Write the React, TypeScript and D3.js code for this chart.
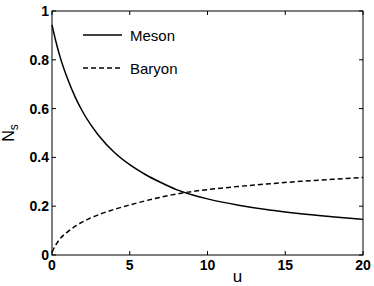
import React, { useEffect, useRef } from 'react';
import * as d3 from 'd3';

// values
const uValues = [0, 0.25, 0.5, 1, 1.5, 2, 2.5, 3, 4, 5, 6, 7, 8, 9, 10, 12, 14, 16, 18, 20];
const mesonValues = [0.943, 0.875, 0.816, 0.722, 0.646, 0.584, 0.533, 0.49, 0.421, 0.37, 0.33, 0.297, 0.268, 0.247, 0.23, 0.204, 0.184, 0.169, 0.157, 0.146];
const baryonValues = [0.012, 0.042, 0.065, 0.095, 0.118, 0.137, 0.152, 0.165, 0.187, 0.205, 0.222, 0.237, 0.25, 0.26, 0.268, 0.281, 0.292, 0.302, 0.31, 0.318];
const xTicks = [0, 5, 10, 15, 20];
const yTicks = [0, 0.2, 0.4, 0.6, 0.8, 1];
const seriesNames = ['Meson', 'Baryon'];

const W = 374;
const H = 286;

export default function App() {
  const svgRef = useRef<SVGSVGElement>(null);

  useEffect(() => {
    if (!svgRef.current) return;
    const margin = { top: 11, right: 11, bottom: 31, left: 52 };
    const iw = W - margin.left - margin.right;
    const ih = H - margin.top - margin.bottom;

    const svg = d3.select(svgRef.current);
    svg.selectAll('*').remove();
    const g = svg.append('g').attr('transform', `translate(${margin.left},${margin.top})`);

    const x = d3.scaleLinear().domain([0, 20]).range([0, iw]);
    const y = d3.scaleLinear().domain([0, 1]).range([ih, 0]);
    const font = 'Liberation Sans, Arial, Helvetica, sans-serif';

    // frame
    g.append('rect')
      .attr('x', 0).attr('y', 0).attr('width', iw).attr('height', ih)
      .attr('fill', 'none').attr('stroke', '#000').attr('stroke-width', 1);

    // inward ticks on all sides
    const tk = 4;
    xTicks.forEach(t => {
      g.append('line').attr('x1', x(t)).attr('x2', x(t)).attr('y1', ih).attr('y2', ih - tk).attr('stroke', '#000');
      g.append('line').attr('x1', x(t)).attr('x2', x(t)).attr('y1', 0).attr('y2', tk).attr('stroke', '#000');
      g.append('text')
        .attr('x', x(t)).attr('y', ih + 15)
        .attr('text-anchor', 'middle')
        .attr('font-family', font).attr('font-weight', 'bold').attr('font-size', 14)
        .text(d3.format('~g')(t));
    });
    yTicks.forEach(t => {
      g.append('line').attr('x1', 0).attr('x2', tk).attr('y1', y(t)).attr('y2', y(t)).attr('stroke', '#000');
      g.append('line').attr('x1', iw).attr('x2', iw - tk).attr('y1', y(t)).attr('y2', y(t)).attr('stroke', '#000');
      g.append('text')
        .attr('x', -3).attr('y', y(t) + 5)
        .attr('text-anchor', 'end')
        .attr('font-family', font).attr('font-weight', 'bold').attr('font-size', 14)
        .text(d3.format('~g')(t));
    });

    const line = d3.line<number>()
      .x((_, i) => x(uValues[i]))
      .y(d => y(d))
      .curve(d3.curveMonotoneX);

    g.append('path')
      .attr('d', line(mesonValues))
      .attr('fill', 'none').attr('stroke', '#000').attr('stroke-width', 1.5);

    g.append('path')
      .attr('d', line(baryonValues))
      .attr('fill', 'none').attr('stroke', '#000').attr('stroke-width', 1.5)
      .attr('stroke-dasharray', '5,3');

    // legend
    const legend = svg.append('g');
    seriesNames.forEach((name, i) => {
      const ly = 35 + i * 33;
      legend.append('line')
        .attr('x1', 83).attr('x2', 122).attr('y1', ly).attr('y2', ly)
        .attr('stroke', '#000').attr('stroke-width', 1.5)
        .attr('stroke-dasharray', i === 1 ? '5,3' : null);
      legend.append('text')
        .attr('x', 130).attr('y', ly + 6)
        .attr('font-family', font).attr('font-size', 15)
        .text(name);
    });

    // axis labels
    svg.append('text')
      .attr('x', margin.left + x(10) + 30).attr('y', 282)
      .attr('text-anchor', 'middle')
      .attr('font-family', font).attr('font-size', 17)
      .text('u');

    const yl = svg.append('text')
      .attr('transform', `translate(14,${margin.top + y(0.5)}) rotate(-90)`)
      .attr('text-anchor', 'middle')
      .attr('font-family', font).attr('font-size', 16);
    yl.append('tspan').text('N');
    yl.append('tspan').attr('font-size', 12).attr('dy', 4).text('s');
  }, []);

  return (
    <svg ref={svgRef} width={W} height={H}
      style={{ position: 'absolute', left: 0, top: 0, background: '#fff' }} />
  );
}
